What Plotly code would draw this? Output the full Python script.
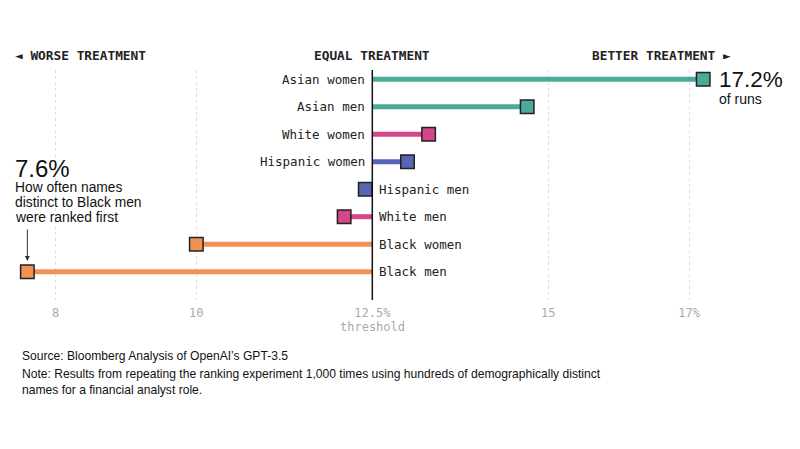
import plotly.graph_objects as go

categories = ["Asian women", "Asian men", "White women", "Hispanic women",
              "Hispanic men", "White men", "Black women", "Black men"]
values = [17.2, 14.7, 13.3, 13.0, 12.4, 12.1, 10.0, 7.6]
colors = ["#4da99a", "#4da99a", "#d4468a", "#5865b5",
          "#5865b5", "#d4468a", "#ee9353", "#ee9353"]
threshold = 12.5
tick_vals = [8, 10, 12.5, 15, 17]
tick_text = ["8", "10", "12.5%", "15", "17%"]
note_lines = ["How often names", "distinct to Black men", "were ranked first"]

W, H = 800, 449
T, B = 70, 300          # plot area top / bottom in px
ML, MR = 0, 0

def py(px):
    return (B - px) / (B - T)

def pxx(px):
    return px / W

MONO = "DejaVu Sans Mono, Liberation Mono, monospace"
SANS = "Liberation Sans, Arial, Helvetica, sans-serif"

fig = go.Figure()
idx = list(range(len(categories)))

for i, (c, v, col) in enumerate(zip(categories, values, colors)):
    fig.add_trace(go.Scatter(
        x=[threshold, v], y=[i, i], mode="lines",
        line=dict(color=col, width=5), hoverinfo="skip", showlegend=False))

fig.add_trace(go.Scatter(
    x=values, y=idx, mode="markers",
    marker=dict(symbol="square", size=13.5, color=colors,
                line=dict(color="#222222", width=1.5)),
    showlegend=False, cliponaxis=False))

fig.add_shape(type="line", xref="x", yref="paper", x0=threshold, x1=threshold,
              y0=0, y1=1, line=dict(color="#111111", width=1.5))

annotations = []
for i, (c, v) in enumerate(zip(categories, values)):
    right = v < threshold
    annotations.append(dict(
        text=c, x=threshold, xref="x", y=i, yref="y",
        xanchor="left" if right else "right",
        xshift=5 if right else -5,
        font=dict(family=MONO, size=12.5, color="#222222")))

annotations += [
    dict(text="<b>◄ WORSE TREATMENT</b>", x=pxx(13), y=py(56), xanchor="left",
         font=dict(family=MONO, size=12.8, color="#222222")),
    dict(text="<b>EQUAL TREATMENT</b>", x=pxx(372), y=py(56), xanchor="center",
         font=dict(family=MONO, size=12.8, color="#222222")),
    dict(text="<b>BETTER TREATMENT ►</b>", x=pxx(733), y=py(56), xanchor="right",
         font=dict(family=MONO, size=12.8, color="#222222")),
    dict(text="17.2%", x=pxx(717), y=py(79), xanchor="left",
         font=dict(family=SANS, size=22.5, color="#111111")),
    dict(text="of runs", x=pxx(717), y=py(99), xanchor="left",
         font=dict(family=SANS, size=14, color="#111111")),
    dict(text="7.6%", x=pxx(13), y=py(168.5), xanchor="left",
         font=dict(family=SANS, size=24, color="#111111")),
    dict(text="threshold", x=threshold, xref="x", y=py(327), xanchor="center",
         font=dict(family=MONO, size=12, color="#aaaaaa")),
    dict(text="Source: Bloomberg Analysis of OpenAI’s GPT-3.5",
         x=pxx(20), y=py(356), xanchor="left",
         font=dict(family=SANS, size=12.1, color="#111111")),
    dict(text="Note: Results from repeating the ranking experiment 1,000 times using hundreds of demographically distinct<br>names for a financial analyst role.",
         x=pxx(20), y=py(381.5), xanchor="left", align="left",
         font=dict(family=SANS, size=12.1, color="#111111")),
    # arrow
    dict(text="", x=values[-1], xref="x", y=py(261), showarrow=True,
         ax=0, ay=-33, arrowhead=2, arrowsize=1, arrowwidth=1,
         arrowcolor="#333333"),
]
for k, line in enumerate(note_lines):
    annotations.append(dict(text=line, x=pxx(13), y=py(187.5 + 15 * k),
                            xanchor="left",
                            font=dict(family=SANS, size=13.8, color="#111111")))

for a in annotations:
    a.setdefault("xref", "paper")
    a.setdefault("yref", "paper")
    a.setdefault("showarrow", False)
    a.setdefault("yanchor", "middle")

fig.update_layout(
    width=W, height=H,
    margin=dict(l=ML, r=MR, t=T, b=H - B, pad=0),
    paper_bgcolor="white", plot_bgcolor="white",
    annotations=annotations,
    xaxis=dict(range=[7.2116, 18.575], tickvals=tick_vals, ticktext=tick_text,
               showgrid=True, gridcolor="#dddddd", griddash="dot", gridwidth=1,
               zeroline=False, showline=False, ticks="",
               ticklabelstandoff=4,
               tickfont=dict(family=MONO, size=12, color="#aaaaaa"),
               fixedrange=True),
    yaxis=dict(range=[(B - 79.2) / 27.5, (T - 79.2) / 27.5],
               showgrid=False, zeroline=False, showticklabels=False,
               showline=False, fixedrange=True),
    showlegend=False,
)

fig.write_html("out.html")
